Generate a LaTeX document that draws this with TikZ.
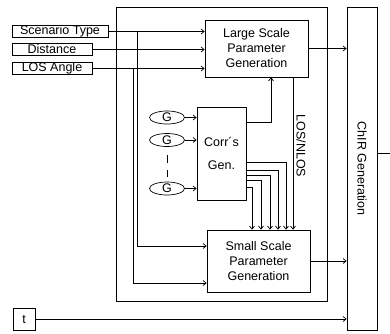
\documentclass[tikz,border=0pt]{standalone}
\usepackage{fontspec}
\setmainfont{Liberation Sans}
\usetikzlibrary{arrows.meta,shapes.geometric,calc}
\begin{document}
\begin{tikzpicture}[x=1pt,y=-1pt,
  line width=0.7pt,
  arr/.style={-{Straight Barb[length=3pt,width=5pt]}},
  box/.style={draw,line width=0.8pt,inner sep=0pt,align=center,font=\fontsize{12.5}{15}\selectfont},
  gnode/.style={draw,ellipse,inner sep=0pt,minimum width=35pt,minimum height=13pt,font=\fontsize{12.5}{14}\selectfont},
  lbl/.style={inner sep=0pt,font=\fontsize{12.5}{15}\selectfont}]
\useasboundingbox (0,0) rectangle (390,333);
% frames
\node[box,minimum width=211pt,minimum height=294pt] (outer) at (221.5,154) {};
\node[box,rotate=-90,minimum width=323pt,minimum height=30pt] (chir) at (362,168.5) {ChIR Generation};
% inputs
\node[box,minimum width=96pt,minimum height=12pt] (scen) at (60,31.5) {Scenario Type};
\node[box,minimum width=80pt,minimum height=12pt] (dist) at (52,49.5) {Distance};
\node[box,minimum width=80pt,minimum height=12pt] (los) at (52,68.5) {LOS Angle};
\node[box,minimum width=22pt,minimum height=22pt] (t) at (24,319) {t};
% blocks
\node[box,minimum width=103pt,minimum height=57pt] (large) at (256.5,48.5) {Large Scale\\Parameter\\Generation};
\node[box,minimum width=103pt,minimum height=62pt] (small) at (258.5,261) {Small Scale\\Parameter\\Generation};
\node[box,minimum width=49pt,minimum height=93pt] (corr) at (221.5,153.5) {Corr´s\\[8pt]Gen.};
\node[gnode] (g1) at (167,117.5) {G};
\node[gnode] (g2) at (167,140) {G};
\node[gnode] (g3) at (167,188.5) {G};
\node[lbl,rotate=-90] (losn) at (301,146) {LOS/NLOS};
% input connectors
\draw[arr] (scen.east) -- (scen.east -| large.west);
\draw[arr] (dist.east) -- (dist.east -| large.west);
\draw[arr] (los.east) -- (los.east -| large.west);
\coordinate (j1) at (137,31.5);
\coordinate (j2) at (133,68.5);
\draw[arr] (j1) |- (small.west |- 0,246);
\draw[arr] (j2) |- (small.west |- 0,283);
% G to corr
\draw[arr] (g1.east) -- (g1.east -| corr.west);
\draw[arr] (g2.east) -- (g2.east -| corr.west);
\draw[arr] (g3.east) -- (g3.east -| corr.west);
\draw[dash pattern=on 8pt off 7pt] ([yshift=-8.5pt]g2.south) -- ([yshift=5pt]g3.north);
% corr outputs
\draw[arr] (corr.east |- 0,122) -| (large.south -| 271,0);
\draw[arr] (corr.east |- 0,162) -| (small.north -| 286,0);
\draw[arr] (corr.east |- 0,170) -| (small.north -| 278,0);
\draw[arr] (corr.east |- 0,175) -| (small.north -| 270,0);
\draw[arr] (corr.east |- 0,180) -| (small.north -| 261,0);
\draw[arr] (corr.east |- 0,187) -| (small.north -| 252,0);
% LOS/NLOS
\draw[arr] (large.south -| 293,0) -- (small.north -| 293,0);
% outputs
\draw[arr] (large.east) -- (large.east -| chir.south);
\draw[arr] (small.east) -- (small.east -| chir.south);
\draw[arr] (t.east) -- (t.east -| chir.south);
\coordinate (outend) at (390,153);
\draw (outend -| chir.north) -- (outend);
\end{tikzpicture}
\end{document}
